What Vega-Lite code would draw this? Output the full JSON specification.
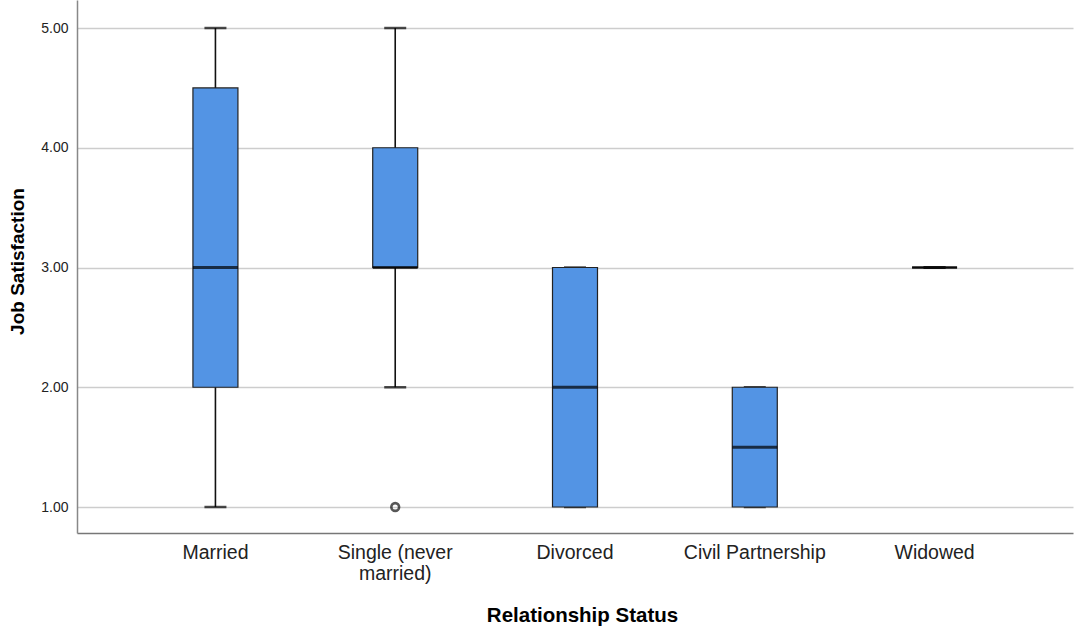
{
  "$schema": "https://vega.github.io/schema/vega-lite/v6.json",
  "width": 996,
  "height": 533,
  "autosize": {"type": "none"},
  "padding": {"left": 77, "top": 0, "right": 2, "bottom": 95},
  "background": "white",
  "config": {"view": {"stroke": null}, "font": "Liberation Sans"},
  "datasets": {
    "boxes": [
      {"status": "Married", "lo": 1, "q1": 2, "median": 3, "q3": 4.5, "hi": 5},
      {"status": "Single (never married)", "lo": 2, "q1": 3, "median": 3, "q3": 4, "hi": 5},
      {"status": "Divorced", "lo": 1, "q1": 1, "median": 2, "q3": 3, "hi": 3},
      {"status": "Civil Partnership", "lo": 1, "q1": 1, "median": 1.5, "q3": 2, "hi": 2},
      {"status": "Widowed", "lo": 3, "q1": 3, "median": 3, "q3": 3, "hi": 3}
    ],
    "outliers": [
      {"status": "Single (never married)", "value": 1}
    ]
  },
  "encoding": {
    "x": {
      "field": "status",
      "type": "nominal",
      "sort": ["Married", "Single (never married)", "Divorced", "Civil Partnership", "Widowed"],
      "scale": {"domain": ["Married", "Single (never married)", "Divorced", "Civil Partnership", "Widowed"], "paddingInner": 0, "paddingOuter": 0.27},
      "axis": {
        "title": "Relationship Status",
        "titleFontSize": 20.5,
        "titleFontWeight": "bold",
        "titleColor": "#000",
        "titleX": 505,
        "titleY": 88,
        "titleBaseline": "alphabetic",
        "labelAngle": 0,
        "labelFontSize": 19.5,
        "labelColor": "#222",
        "labelPadding": 10,
        "labelLineHeight": 21,
        "labelExpr": "datum.label == 'Single (never married)' ? ['Single (never', 'married)'] : datum.label",
        "ticks": false,
        "domainColor": "#777",
        "domainWidth": 1.5,
        "grid": false
      }
    }
  },
  "layer": [
    {
      "data": {"name": "boxes"},
      "mark": {"type": "rule", "color": "#111", "strokeWidth": 1.6},
      "encoding": {
        "y": {
          "field": "lo",
          "type": "quantitative",
          "scale": {"domain": [0.783, 5.234], "nice": false, "zero": false},
          "axis": {
            "title": "Job Satisfaction",
            "titleFontSize": 19,
            "titleFontWeight": "bold",
            "titleColor": "#000",
            "titleX": -54,
            "titleY": 261,
            "titleBaseline": "alphabetic",
            "values": [1, 2, 3, 4, 5],
            "format": ".2f",
            "labelFontSize": 14,
            "labelColor": "#222",
            "labelPadding": 9,
            "ticks": false,
            "domainColor": "#888",
            "domainWidth": 1.5,
            "grid": true,
            "gridColor": "#cdcdcd",
            "gridWidth": 1.5
          }
        },
        "y2": {"field": "hi"}
      }
    },
    {
      "data": {"name": "boxes"},
      "mark": {"type": "tick", "color": "#000", "size": 22, "thickness": 2.5},
      "encoding": {"y": {"field": "lo", "type": "quantitative"}}
    },
    {
      "data": {"name": "boxes"},
      "mark": {"type": "tick", "color": "#000", "size": 22, "thickness": 2.5},
      "encoding": {"y": {"field": "hi", "type": "quantitative"}}
    },
    {
      "data": {"name": "boxes"},
      "mark": {"type": "bar", "width": 45, "fill": "#5394e4", "stroke": "#222", "strokeWidth": 1.2},
      "encoding": {
        "y": {"field": "q1", "type": "quantitative"},
        "y2": {"field": "q3"}
      }
    },
    {
      "data": {"name": "boxes"},
      "mark": {"type": "tick", "color": "#000", "size": 45, "thickness": 3},
      "encoding": {"y": {"field": "median", "type": "quantitative"}}
    },
    {
      "data": {"name": "outliers"},
      "mark": {"type": "point", "shape": "circle", "filled": false, "color": "#111", "size": 60, "strokeWidth": 2.6},
      "encoding": {"y": {"field": "value", "type": "quantitative"}}
    }
  ]
}
